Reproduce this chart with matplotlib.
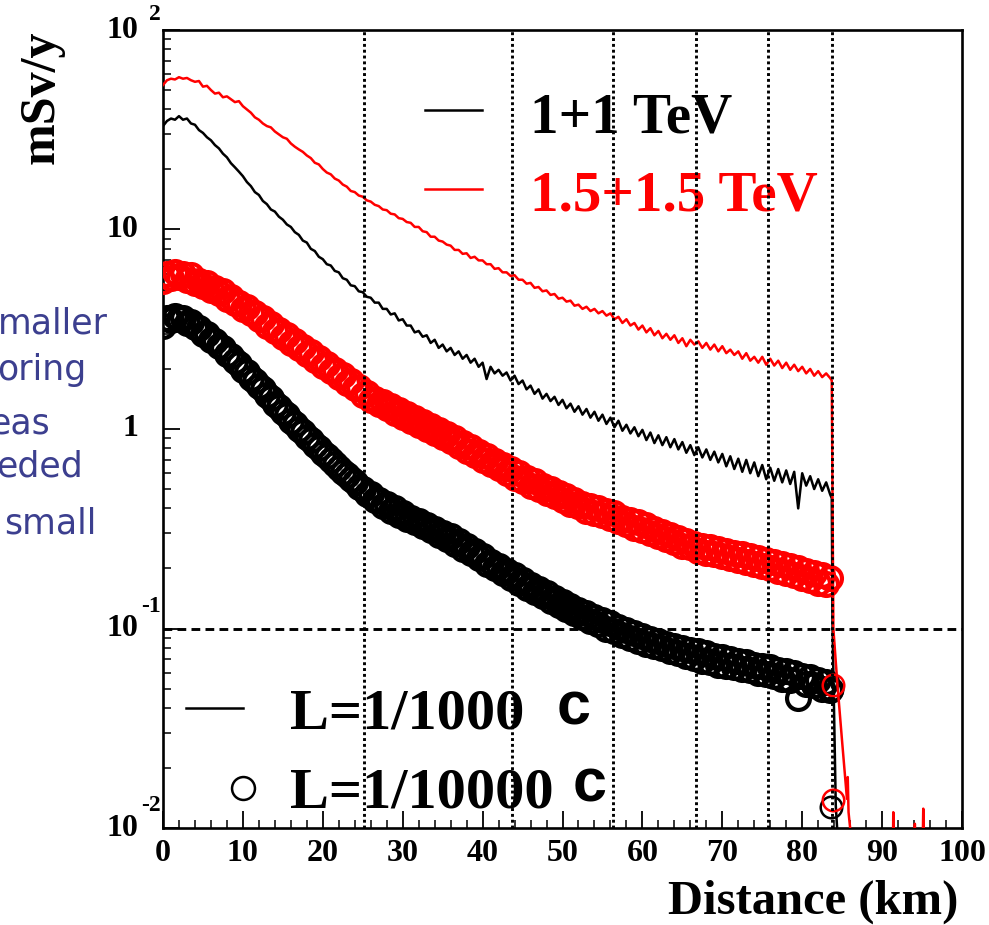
import matplotlib.pyplot as plt
import numpy as np
from matplotlib.ticker import MultipleLocator, LogLocator, NullFormatter

plt.rcParams['font.family'] = ['Liberation Serif', 'DejaVu Serif']
plt.rcParams['font.weight'] = 'bold'

# Abstand in km (0.5 km Raster) fuer die vier Kurven
distanz = np.arange(0, 84, 0.5)

# 1.5+1.5 TeV, L=1/1000 c (rote Linie)
rot_linie = [
    53, 56, 57, 56.5, 58, 57, 57.5, 56, 55, 55.5,
    52, 52.5, 50, 48, 48.5, 46, 46.5, 45, 43.5, 44,
    41.5, 40, 38.5, 36.5, 35.5, 34, 33, 32.5, 31, 30,
    29, 28.5, 27, 26, 25.2, 24.5, 23.5, 22.8, 21.6, 21.2,
    20.1, 19.3, 18.9, 18.0, 17.6, 16.8, 16.4, 15.6, 15.4, 14.8,
    14.6, 14.0, 13.8, 13.3, 13.1, 12.6, 12.5, 12.0, 11.9, 11.4,
    11.3, 10.9, 10.8, 10.3, 10.3, 9.8, 9.7, 9.2, 9.2, 8.8,
    8.7, 8.4, 8.3, 7.9, 7.9, 7.55, 7.6, 7.2, 7.3, 7.0,
    7.0, 6.7, 6.7, 6.35, 6.4, 6.1, 6.1, 5.85, 5.9, 5.6,
    5.6, 5.35, 5.4, 5.1, 5.15, 4.9, 4.95, 4.7, 4.75, 4.5,
    4.55, 4.35, 4.4, 4.15, 4.2, 4.0, 4.1, 3.9, 4.0, 3.8,
    3.9, 3.7, 3.8, 3.55, 3.65, 3.4, 3.55, 3.3, 3.4, 3.15,
    3.3, 3.05, 3.2, 2.95, 3.1, 2.85, 3.0, 2.8, 2.95, 2.7,
    2.85, 2.6, 2.8, 2.65, 2.75, 2.55, 2.7, 2.5, 2.65, 2.45,
    2.6, 2.4, 2.5, 2.35, 2.45, 2.25, 2.4, 2.2, 2.3, 2.15,
    2.3, 2.1, 2.25, 2.08, 2.2, 2.02, 2.15, 1.98, 2.1, 1.95,
    2.05, 1.9, 2.0, 1.85, 1.95, 1.82, 1.9, 1.8,
]
rot_linie_ende_km = [83.7, 83.9, 84.4, 85.0, 85.6, 85.7, 85.8, 86.0, 86.5,
                     91.3, 91.4, 91.5, 94.0, 94.1, 94.2, 95.0, 95.15, 95.3, 96.0]
rot_linie_ende = [1.75, 0.1, 0.053, 0.027, 0.014, 0.018, 0.012, 0.01, 0.005,
                  0.005, 0.012, 0.005, 0.005, 0.0105, 0.005, 0.005, 0.0125, 0.005, 0.005]

# 1+1 TeV, L=1/1000 c (schwarze Linie)
schwarz_linie = [
    33, 35, 36, 35.5, 37, 35.5, 36, 34, 33.5, 31.5,
    30.5, 29, 28, 26.5, 25.5, 24, 23, 21.5, 20.5, 19.5,
    18.5, 17.3, 16.5, 15.4, 14.9, 13.9, 13.4, 12.6, 12.3, 11.6,
    11.2, 10.6, 10.3, 9.7, 9.4, 8.8, 8.6, 8.0, 7.8, 7.3,
    7.1, 6.7, 6.6, 6.2, 6.1, 5.7, 5.6, 5.25, 5.2, 4.9,
    4.85, 4.6, 4.55, 4.3, 4.3, 4.0, 4.0, 3.75, 3.8, 3.5,
    3.55, 3.3, 3.3, 3.05, 3.1, 2.9, 2.95, 2.7, 2.8, 2.55,
    2.65, 2.45, 2.55, 2.35, 2.45, 2.25, 2.35, 2.15, 2.25, 2.05,
    2.15, 1.78, 2.05, 1.9, 1.98, 1.85, 1.92, 1.75, 1.85, 1.68,
    1.75, 1.58, 1.65, 1.5, 1.58, 1.42, 1.5, 1.38, 1.45, 1.32,
    1.4, 1.27, 1.34, 1.22, 1.3, 1.18, 1.26, 1.14, 1.22, 1.1,
    1.18, 1.06, 1.14, 1.02, 1.1, 0.98, 1.05, 0.95, 1.02, 0.92,
    0.99, 0.88, 0.96, 0.85, 0.93, 0.83, 0.91, 0.81, 0.89, 0.79,
    0.86, 0.76, 0.83, 0.74, 0.81, 0.72, 0.79, 0.7, 0.77, 0.68,
    0.75, 0.65, 0.73, 0.63, 0.71, 0.61, 0.7, 0.6, 0.68, 0.58,
    0.66, 0.56, 0.64, 0.55, 0.63, 0.54, 0.62, 0.53, 0.61, 0.4,
    0.6, 0.52, 0.58, 0.5, 0.56, 0.49, 0.54, 0.47,
]
schwarz_linie_ende_km = [83.7, 83.8, 84.2, 84.7]
schwarz_linie_ende = [0.45, 0.1, 0.013, 0.006]

# 1.5+1.5 TeV, L=1/10000 c (rote Kreise)
rot_kreise = [
    5.5, 6.0, 5.7, 6.1, 5.8, 6.0, 5.6, 5.9, 5.4, 5.5,
    5.2, 5.4, 5.0, 5.1, 4.8, 4.9, 4.5, 4.6, 4.3, 4.3,
    4.0, 4.1, 3.8, 3.8, 3.55, 3.6, 3.3, 3.35, 3.1, 3.15,
    2.9, 2.95, 2.7, 2.75, 2.55, 2.58, 2.38, 2.42, 2.22, 2.26,
    2.08, 2.12, 1.95, 1.98, 1.83, 1.86, 1.7, 1.74, 1.6, 1.62,
    1.48, 1.52, 1.4, 1.42, 1.33, 1.36, 1.27, 1.3, 1.2, 1.24,
    1.15, 1.19, 1.1, 1.13, 1.05, 1.09, 1.0, 1.04, 0.96, 0.99,
    0.91, 0.94, 0.87, 0.9, 0.82, 0.85, 0.78, 0.81, 0.74, 0.77,
    0.7, 0.73, 0.67, 0.69, 0.64, 0.66, 0.6, 0.63, 0.57, 0.6,
    0.55, 0.57, 0.52, 0.55, 0.5, 0.52, 0.48, 0.5, 0.46, 0.48,
    0.44, 0.46, 0.42, 0.44, 0.41, 0.42, 0.39, 0.41, 0.38, 0.4,
    0.37, 0.39, 0.36, 0.38, 0.345, 0.36, 0.335, 0.35, 0.32, 0.34,
    0.31, 0.33, 0.3, 0.315, 0.29, 0.305, 0.28, 0.295, 0.27, 0.285,
    0.26, 0.275, 0.255, 0.265, 0.245, 0.26, 0.24, 0.255, 0.235, 0.25,
    0.23, 0.245, 0.225, 0.24, 0.22, 0.235, 0.215, 0.23, 0.21, 0.225,
    0.205, 0.22, 0.2, 0.215, 0.195, 0.21, 0.19, 0.205, 0.185, 0.2,
    0.18, 0.195, 0.175, 0.19, 0.17, 0.185, 0.168, 0.18,
]
rot_kreise_ende_km = [83.9, 83.9]
rot_kreise_ende = [0.052, 0.0138]

# 1+1 TeV, L=1/10000 c (schwarze Kreise)
schwarz_kreise = [
    3.3, 3.6, 3.5, 3.7, 3.55, 3.6, 3.4, 3.45, 3.25, 3.2,
    3.0, 3.0, 2.8, 2.75, 2.6, 2.55, 2.38, 2.32, 2.18, 2.12,
    1.98, 1.92, 1.8, 1.74, 1.64, 1.58, 1.48, 1.43, 1.34, 1.29,
    1.21, 1.17, 1.1, 1.06, 1.0, 0.97, 0.91, 0.88, 0.83, 0.8,
    0.76, 0.73, 0.7, 0.67, 0.64, 0.61, 0.59, 0.56, 0.54, 0.51,
    0.5, 0.47, 0.47, 0.44, 0.44, 0.41, 0.42, 0.39, 0.4, 0.37,
    0.38, 0.355, 0.36, 0.34, 0.345, 0.325, 0.33, 0.31, 0.315, 0.295,
    0.3, 0.28, 0.29, 0.265, 0.275, 0.25, 0.26, 0.24, 0.245, 0.225,
    0.23, 0.21, 0.215, 0.2, 0.205, 0.19, 0.195, 0.18, 0.185, 0.17,
    0.175, 0.16, 0.165, 0.152, 0.157, 0.145, 0.15, 0.138, 0.143, 0.131,
    0.136, 0.125, 0.13, 0.119, 0.124, 0.114, 0.119, 0.109, 0.114, 0.105,
    0.11, 0.1, 0.106, 0.097, 0.102, 0.093, 0.098, 0.09, 0.095, 0.087,
    0.092, 0.084, 0.089, 0.082, 0.087, 0.08, 0.084, 0.077, 0.082, 0.075,
    0.08, 0.073, 0.078, 0.071, 0.077, 0.069, 0.075, 0.068, 0.073, 0.066,
    0.072, 0.065, 0.07, 0.064, 0.069, 0.063, 0.068, 0.062, 0.066, 0.06,
    0.065, 0.059, 0.064, 0.058, 0.062, 0.056, 0.061, 0.055, 0.06, 0.045,
    0.058, 0.053, 0.057, 0.052, 0.055, 0.05, 0.054, 0.049,
]
schwarz_kreise_ende_km = [83.7, 83.6]
schwarz_kreise_ende = [0.05, 0.0128]

# Markierungen (senkrecht gepunktet) und Grenzwert 0.1 mSv/y
marken_km = [25.2, 43.7, 56.3, 66.7, 75.7, 83.7]
grenzwert = 0.1

# Achsenbeschriftung der log-Achse: Basis und Exponent
y_werte = [0.01, 0.1, 1, 10, 100]
y_basis = ['10', '10', '1', '10', '10']
y_exponent = ['-2', '-1', '', '', '2']

# Textfragmente am linken Rand
rand_text = ['maller', 'oring', 'eas', 'eded', 'small']
rand_rechts_px = [108, 86, 50, 83, 97]
rand_basis_px = [333, 380, 433, 477, 533]

W, H = 989, 925
fig = plt.figure(figsize=(W / 100, H / 100), dpi=100)
ax = fig.add_axes([163 / W, 1 - 828 / H, 799 / W, 798 / H])
ax.set_yscale('log')
ax.set_xlim(0, 100)
ax.set_ylim(0.01, 100)

# dichte Kreise -> geschlossenes Band, Einzelpunkte am Ende duenner
ms_kreis = 16.5
mew_band = 3.0
ax.plot(distanz, schwarz_kreise, 'o', mfc='none', mec='black',
        ms=ms_kreis, mew=mew_band, zorder=2)
ax.plot(schwarz_kreise_ende_km, schwarz_kreise_ende, 'o', mfc='none', mec='black',
        ms=15.5, mew=1.8, zorder=2)
ax.plot(np.r_[distanz, schwarz_linie_ende_km], np.r_[schwarz_linie, schwarz_linie_ende],
        color='black', lw=1.8, zorder=3)
ax.plot(distanz, rot_kreise, 'o', mfc='none', mec='red',
        ms=ms_kreis, mew=mew_band, zorder=4)
ax.plot(rot_kreise_ende_km, rot_kreise_ende, 'o', mfc='none', mec='red',
        ms=15.5, mew=1.8, zorder=4)
ax.plot(np.r_[distanz, rot_linie_ende_km], np.r_[rot_linie, rot_linie_ende],
        color='red', lw=1.8, zorder=5)

for km in marken_km:
    ax.axvline(km, color='black', lw=2.1, ls=(0, (1, 1)), zorder=10)
ax.axhline(grenzwert, color='black', lw=2.1, ls=(0, (3.0, 1.8)), zorder=10)

for s in ax.spines.values():
    s.set_linewidth(1.9)

ax.xaxis.set_major_locator(MultipleLocator(10))
ax.xaxis.set_minor_locator(MultipleLocator(2))
ax.yaxis.set_major_locator(LogLocator(base=10, numticks=10))
ax.yaxis.set_minor_locator(LogLocator(base=10, subs=np.arange(2, 10), numticks=10))
ax.yaxis.set_major_formatter(NullFormatter())
ax.yaxis.set_minor_formatter(NullFormatter())
ax.tick_params(which='both', direction='in', top=False, right=False)
ax.tick_params(which='major', length=12, width=1.3)
ax.tick_params(which='minor', length=6, width=1.1)
ax.tick_params(axis='x', labelsize=23, pad=8)

ytr = ax.get_yaxis_transform()
for v, b, e in zip(y_werte, y_basis, y_exponent):
    ax.text(-0.031, v, b, transform=ytr, ha='right', va='center', fontsize=23)
    if e:
        hoch = 11 if v == 100 else 16
        ax.annotate(e, xy=(-0.0025, v), xycoords=ytr, xytext=(0, hoch),
                    textcoords='offset points', ha='right', va='center', fontsize=17)

fig.text(42 / W, 1 - 30 / H, 'mSv/y', rotation=90, ha='center', va='top', fontsize=36)
fig.text(958 / W, 1 - 914 / H, 'Distance (km)', ha='right', va='baseline', fontsize=35)

# Legende oben: Energien
ta = ax.transAxes
ax.plot([0.328, 0.399], [0.8997, 0.8997], color='black', lw=1.8, transform=ta)
ax.text(0.459, 0.872, '1+1 TeV', transform=ta, fontsize=41, color='black')
ax.plot([0.328, 0.399], [0.8008, 0.8008], color='red', lw=1.8, transform=ta)
ax.text(0.459, 0.7744, '1.5+1.5 TeV', transform=ta, fontsize=41, color='red')

# Legende unten: Verluste
ax.plot([0.0288, 0.1001], [0.1504, 0.1504], color='black', lw=1.8, transform=ta)
ax.text(0.159, 0.1253, 'L=1/1000', transform=ta, fontsize=42)
ax.text(0.493, 0.130, 'c', transform=ta, fontsize=44, family='Liberation Sans')
ax.plot([0.1001], [0.0501], 'o', mfc='none', mec='black', ms=16.5, mew=1.8, transform=ta)
ax.text(0.159, 0.0251, 'L=1/10000', transform=ta, fontsize=42)
ax.text(0.513, 0.0326, 'c', transform=ta, fontsize=44, family='Liberation Sans')

for t, xr, yb in zip(rand_text, rand_rechts_px, rand_basis_px):
    fig.text(xr / W, 1 - yb / H, t, ha='right', va='baseline', fontsize=25,
             family='DejaVu Sans', weight='normal', color='#3c3f8f')

fig.savefig('out.png', dpi=100)
